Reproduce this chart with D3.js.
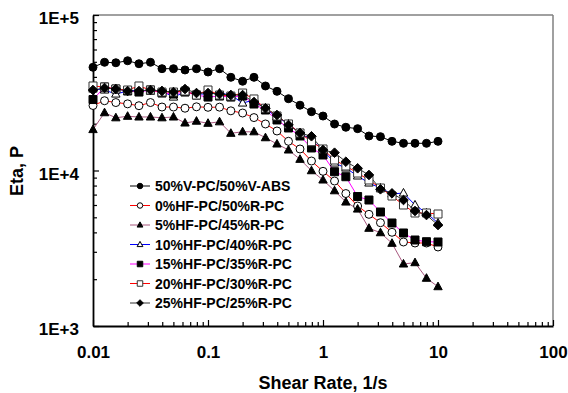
<!DOCTYPE html>
<html>
<head>
<meta charset="utf-8">
<script src="https://cdn.jsdelivr.net/npm/d3@7"></script>
<style>
  html, body { margin: 0; padding: 0; background: #fff; }
  svg { display: block; font-family: "Liberation Sans", Arial, sans-serif; }
</style>
</head>
<body>
<svg id="chart" width="568" height="393"></svg>
<script>
// ---- data ----
const shearRate = [0.01, 0.0126, 0.0158, 0.02, 0.0251, 0.0316, 0.0398, 0.0501, 0.0631, 0.0794,
  0.1, 0.126, 0.158, 0.2, 0.251, 0.316, 0.398, 0.501, 0.631, 0.794,
  1, 1.26, 1.58, 2, 2.51, 3.16, 3.98, 5.01, 6.31, 7.94, 10];

const seriesNames = ["50%V-PC/50%V-ABS", "0%HF-PC/50%R-PC", "5%HF-PC/45%R-PC",
  "10%HF-PC/40%R-PC", "15%HF-PC/35%R-PC", "20%HF-PC/30%R-PC", "25%HF-PC/25%R-PC"];

const eta50V = [46100, 49650, 49300, 50800, 48600, 49650, 45150, 45150, 44300, 45150,
  43000, 45150, 39750, 37500, 39750, 34950, 32300, 28950, 26300, 23900,
  22400, 19900, 18970, 18580, 16670, 16500, 15400, 14960, 14960, 14960, 15400];
const eta0HF = [26180, 28100, 27350, 26830, 26100, 27350, 25600, 25600, 25150, 25680,
  25490, 25550, 24200, 23420, 21890, 19915, 17950, 15410, 13750, 11510,
  9880, 8560, 7110, 5910, 5225, 4616, 4005, 3469, 3418, 3418, 3222];
const eta5HF = [18330, 23530, 21830, 22320, 22090, 22090, 21830, 22090, 20210, 20760,
  20120, 20570, 17350, 17740, 17740, 16250, 14810, 13550, 11800, 9970,
  8690, 7410, 6270, 5650, 4250, 3981, 3403, 2505, 2554, 2028, 1790];
const eta10HF = [33420, 32930, 31020, 32440, 32930, 32440, 32440, 29670, 31960, 31020,
  31020, 31490, 30570, 27160, 28390, 24860, 22090, 19915, 17430, 15710,
  13550, 11170, 10370, 9220, 8310, 7715, 7060, 7165, 6000, 5330, 4596];
const eta15HF = [28600, 34430, 33420, 32440, 31960, 32930, 31490, 31020, 31960, 30570,
  29670, 30120, 29670, 30120, 26760, 24490, 21130, 18770, 16670, 13960,
  12580, 9820, 9120, 6800, 6460, 5410, 4596, 3964, 3573, 3484, 3469];
const eta20HF = [34950, 34430, 33420, 32930, 34950, 32930, 31960, 31960, 32440, 30570,
  32930, 30570, 30120, 31490, 28840, 25150, 22420, 19915, 17430, 15320,
  13750, 11680, 10690, 9630, 8690, 7715, 6855, 6000, 5330, 5330, 5250];
const eta25HF = [32930, 33920, 33420, 32440, 32440, 32930, 32440, 31960, 33420, 31490,
  31490, 31020, 30570, 30570, 27560, 25150, 22750, 19620, 17430, 16600,
  13550, 13020, 11390, 10330, 9360, 7570, 7130, 6460, 5490, 5170, 4460];

const xTickValues = [0.01, 0.1, 1, 10, 100];
const xTickLabels = ["0.01", "0.1", "1", "10", "100"];
const yTickValues = [1000, 10000, 100000];
const yTickLabels = ["1E+3", "1E+4", "1E+5"];
const xTitle = "Shear Rate, 1/s";
const yTitle = "Eta, P";

// ---- styles ----
const styles = [
  { line: "#000000", marker: "circle",   fill: "#000", stroke: "#000" },
  { line: "#ff0000", marker: "circle",   fill: "#fff", stroke: "#000" },
  { line: "#a8587f", marker: "triangle", fill: "#000", stroke: "#000" },
  { line: "#0000ff", marker: "triangle", fill: "#fff", stroke: "#000" },
  { line: "#ff00ff", marker: "square",   fill: "#000", stroke: "#000" },
  { line: "#ff0000", marker: "square",   fill: "#fff", stroke: "#333" },
  { line: "#333333", marker: "diamond",  fill: "#000", stroke: "#000" }
];
const allSeries = [eta50V, eta0HF, eta5HF, eta10HF, eta15HF, eta20HF, eta25HF];

const svg = d3.select("#chart");
const L = 93, R = 553, T = 15, B = 326;
const x = d3.scaleLog().domain([0.01, 100]).range([L, R]);
const y = d3.scaleLog().domain([1000, 100000]).range([B, T]);

function markerPath(type, s) {
  if (type === "circle") return d3.symbol(d3.symbolCircle, s * s * Math.PI / 4)();
  if (type === "square") return d3.symbol(d3.symbolSquare, s * s)();
  if (type === "triangle") {
    const h = s * 0.95, w = s * 1.05;
    return `M0,${-h * 0.6}L${w / 2},${h * 0.4}L${-w / 2},${h * 0.4}Z`;
  }
  if (type === "diamond") {
    const r = s * 0.6;
    return `M0,${-r}L${r},0L0,${r}L${-r},0Z`;
  }
}

// border top/right
svg.append("line").attr("x1", L).attr("x2", R).attr("y1", T).attr("y2", T)
  .attr("stroke", "#808080").attr("stroke-width", 1.5);
svg.append("line").attr("x1", R).attr("x2", R).attr("y1", T).attr("y2", B)
  .attr("stroke", "#808080").attr("stroke-width", 1.5);

// minor ticks
const xMinor = [];
[0.01, 0.1, 1, 10].forEach(d => { for (let k = 2; k <= 9; k++) xMinor.push(d * k); });
const yMinor = [];
[1000, 10000].forEach(d => { for (let k = 2; k <= 9; k++) yMinor.push(d * k); });

const gx = svg.append("g").attr("transform", `translate(0,${B})`);
gx.call(d3.axisBottom(x).tickValues(xMinor).tickSizeInner(-4).tickSizeOuter(0).tickFormat(""));
gx.call(g => g.select(".domain").remove());
const gx2 = svg.append("g").attr("transform", `translate(0,${B})`);
gx2.call(d3.axisBottom(x).tickValues(xTickValues).tickSizeInner(-6).tickSizeOuter(0)
  .tickPadding(20).tickFormat((d, i) => xTickLabels[i]));

const gy = svg.append("g").attr("transform", `translate(${L},0)`);
gy.call(d3.axisLeft(y).tickValues(yMinor).tickSizeInner(-4).tickSizeOuter(0).tickFormat(""));
gy.call(g => g.select(".domain").remove());
const gy2 = svg.append("g").attr("transform", `translate(${L},0)`);
gy2.call(d3.axisLeft(y).tickValues(yTickValues).tickSizeInner(-6).tickSizeOuter(0)
  .tickPadding(14).tickFormat((d, i) => yTickLabels[i]));

svg.selectAll(".tick line").attr("stroke", "#000").attr("stroke-width", 1.2);
svg.selectAll(".domain").attr("stroke", "#000").attr("stroke-width", 1.8);
gx2.selectAll("text").attr("font-size", 17).attr("font-weight", "bold")
  .attr("font-family", "Liberation Sans, Arial, sans-serif").attr("fill", "#000");
gy2.selectAll("text").attr("font-size", 17).attr("font-weight", "bold")
  .attr("font-family", "Liberation Sans, Arial, sans-serif").attr("fill", "#000").attr("dy", "0.5em");

// titles
svg.append("text").attr("x", 323).attr("y", 389).attr("text-anchor", "middle")
  .attr("font-size", 18).attr("font-weight", "bold").text(xTitle);
svg.append("text").attr("transform", "translate(23,171) rotate(-90)").attr("text-anchor", "middle")
  .attr("font-size", 18).attr("font-weight", "bold").text(yTitle);

// series
const line = d3.line().x((d, i) => x(shearRate[i])).y(d => y(d));
allSeries.forEach((vals, si) => {
  const st = styles[si];
  svg.append("path").datum(vals).attr("d", line).attr("fill", "none")
    .attr("stroke", st.line).attr("stroke-width", 1);
});
allSeries.forEach((vals, si) => {
  const st = styles[si];
  svg.append("g").selectAll("path").data(vals).join("path")
    .attr("transform", (d, i) => `translate(${x(shearRate[i])},${y(d)})`)
    .attr("d", markerPath(st.marker, 8))
    .attr("fill", st.fill).attr("stroke", st.stroke).attr("stroke-width", 1);
});

// legend
const lg = svg.append("g");
seriesNames.forEach((name, i) => {
  const yy = 186 + i * 19.5;
  const st = styles[i];
  lg.append("line").attr("x1", 130).attr("x2", 150).attr("y1", yy).attr("y2", yy)
    .attr("stroke", st.line).attr("stroke-width", 1);
  lg.append("path").attr("transform", `translate(140,${yy})`).attr("d", markerPath(st.marker, 5.5))
    .attr("fill", st.fill).attr("stroke", st.stroke).attr("stroke-width", 1);
  lg.append("text").attr("x", 155).attr("y", yy).attr("dy", "0.36em")
    .attr("font-size", 14).attr("font-weight", "bold").text(name);
});
</script>
</body>
</html>
